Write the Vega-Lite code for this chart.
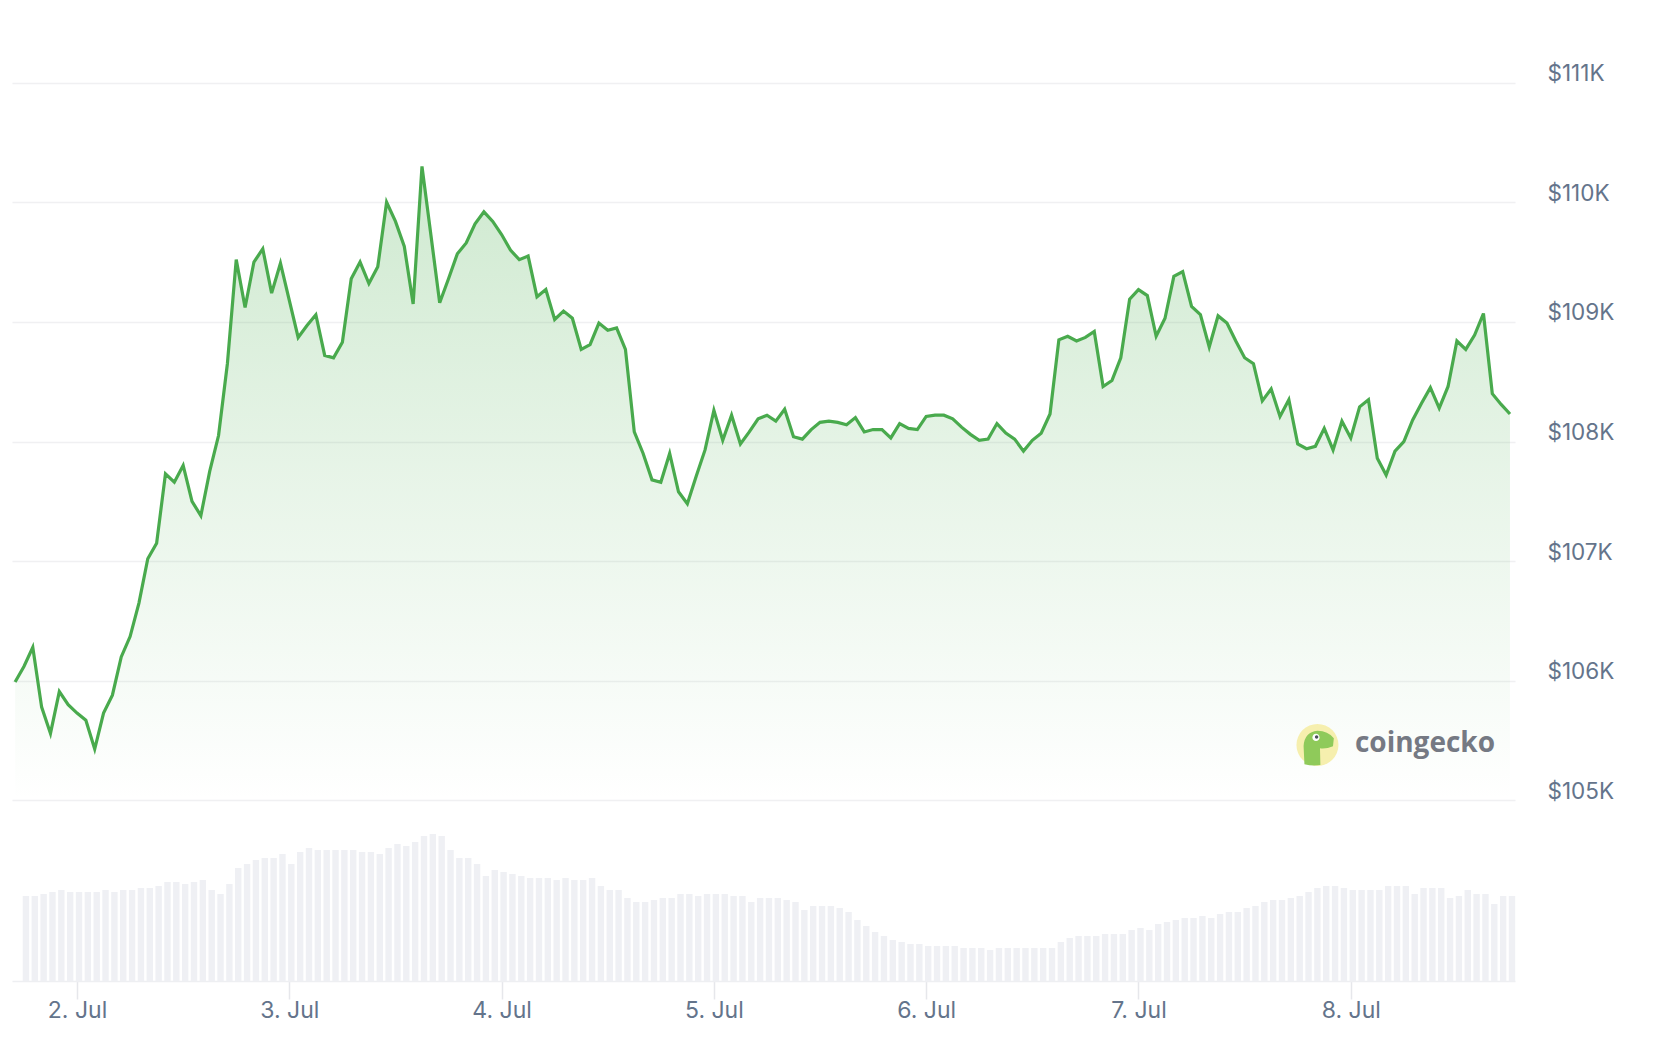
{
  "$schema": "https://vega.github.io/schema/vega-lite/v6.json",
  "width": 1503,
  "height": 958,
  "autosize": {"type": "none"},
  "padding": {"left": 12, "top": 23, "right": 165, "bottom": 61},
  "background": "white",
  "datasets": {
    "price": [
      {"t":"2025-07-01T17:00:00Z","p":105990},{"t":"2025-07-01T18:00:00Z","p":106120},{"t":"2025-07-01T19:00:00Z","p":106280},{"t":"2025-07-01T20:00:00Z","p":105780},{"t":"2025-07-01T21:00:00Z","p":105560},{"t":"2025-07-01T22:00:00Z","p":105910},{"t":"2025-07-01T23:00:00Z","p":105800},
      {"t":"2025-07-02T00:00:00Z","p":105730},{"t":"2025-07-02T01:00:00Z","p":105670},{"t":"2025-07-02T02:00:00Z","p":105430},{"t":"2025-07-02T03:00:00Z","p":105730},{"t":"2025-07-02T04:00:00Z","p":105880},{"t":"2025-07-02T05:00:00Z","p":106200},{"t":"2025-07-02T06:00:00Z","p":106370},{"t":"2025-07-02T07:00:00Z","p":106650},{"t":"2025-07-02T08:00:00Z","p":107020},{"t":"2025-07-02T09:00:00Z","p":107150},{"t":"2025-07-02T10:00:00Z","p":107730},{"t":"2025-07-02T11:00:00Z","p":107660},{"t":"2025-07-02T12:00:00Z","p":107800},{"t":"2025-07-02T13:00:00Z","p":107500},{"t":"2025-07-02T14:00:00Z","p":107380},{"t":"2025-07-02T15:00:00Z","p":107750},{"t":"2025-07-02T16:00:00Z","p":108050},{"t":"2025-07-02T17:00:00Z","p":108650},{"t":"2025-07-02T18:00:00Z","p":109520},{"t":"2025-07-02T19:00:00Z","p":109120},{"t":"2025-07-02T20:00:00Z","p":109500},{"t":"2025-07-02T21:00:00Z","p":109610},{"t":"2025-07-02T22:00:00Z","p":109240},{"t":"2025-07-02T23:00:00Z","p":109490},
      {"t":"2025-07-03T00:00:00Z","p":109180},{"t":"2025-07-03T01:00:00Z","p":108870},{"t":"2025-07-03T02:00:00Z","p":108970},{"t":"2025-07-03T03:00:00Z","p":109060},{"t":"2025-07-03T04:00:00Z","p":108720},{"t":"2025-07-03T05:00:00Z","p":108700},{"t":"2025-07-03T06:00:00Z","p":108830},{"t":"2025-07-03T07:00:00Z","p":109360},{"t":"2025-07-03T08:00:00Z","p":109500},{"t":"2025-07-03T09:00:00Z","p":109320},{"t":"2025-07-03T10:00:00Z","p":109460},{"t":"2025-07-03T11:00:00Z","p":110000},{"t":"2025-07-03T12:00:00Z","p":109840},{"t":"2025-07-03T13:00:00Z","p":109630},{"t":"2025-07-03T14:00:00Z","p":109150},{"t":"2025-07-03T15:00:00Z","p":110300},{"t":"2025-07-03T16:00:00Z","p":109730},{"t":"2025-07-03T17:00:00Z","p":109160},{"t":"2025-07-03T18:00:00Z","p":109360},{"t":"2025-07-03T19:00:00Z","p":109570},{"t":"2025-07-03T20:00:00Z","p":109660},{"t":"2025-07-03T21:00:00Z","p":109820},{"t":"2025-07-03T22:00:00Z","p":109920},{"t":"2025-07-03T23:00:00Z","p":109840},
      {"t":"2025-07-04T00:00:00Z","p":109730},{"t":"2025-07-04T01:00:00Z","p":109600},{"t":"2025-07-04T02:00:00Z","p":109520},{"t":"2025-07-04T03:00:00Z","p":109550},{"t":"2025-07-04T04:00:00Z","p":109210},{"t":"2025-07-04T05:00:00Z","p":109270},{"t":"2025-07-04T06:00:00Z","p":109020},{"t":"2025-07-04T07:00:00Z","p":109090},{"t":"2025-07-04T08:00:00Z","p":109030},{"t":"2025-07-04T09:00:00Z","p":108770},{"t":"2025-07-04T10:00:00Z","p":108810},{"t":"2025-07-04T11:00:00Z","p":108990},{"t":"2025-07-04T12:00:00Z","p":108930},{"t":"2025-07-04T13:00:00Z","p":108950},{"t":"2025-07-04T14:00:00Z","p":108770},{"t":"2025-07-04T15:00:00Z","p":108080},{"t":"2025-07-04T16:00:00Z","p":107900},{"t":"2025-07-04T17:00:00Z","p":107680},{"t":"2025-07-04T18:00:00Z","p":107660},{"t":"2025-07-04T19:00:00Z","p":107900},{"t":"2025-07-04T20:00:00Z","p":107580},{"t":"2025-07-04T21:00:00Z","p":107480},{"t":"2025-07-04T22:00:00Z","p":107710},{"t":"2025-07-04T23:00:00Z","p":107930},
      {"t":"2025-07-05T00:00:00Z","p":108260},{"t":"2025-07-05T01:00:00Z","p":108010},{"t":"2025-07-05T02:00:00Z","p":108220},{"t":"2025-07-05T03:00:00Z","p":107980},{"t":"2025-07-05T04:00:00Z","p":108080},{"t":"2025-07-05T05:00:00Z","p":108190},{"t":"2025-07-05T06:00:00Z","p":108220},{"t":"2025-07-05T07:00:00Z","p":108170},{"t":"2025-07-05T08:00:00Z","p":108270},{"t":"2025-07-05T09:00:00Z","p":108040},{"t":"2025-07-05T10:00:00Z","p":108020},{"t":"2025-07-05T11:00:00Z","p":108100},{"t":"2025-07-05T12:00:00Z","p":108160},{"t":"2025-07-05T13:00:00Z","p":108170},{"t":"2025-07-05T14:00:00Z","p":108160},{"t":"2025-07-05T15:00:00Z","p":108140},{"t":"2025-07-05T16:00:00Z","p":108200},{"t":"2025-07-05T17:00:00Z","p":108080},{"t":"2025-07-05T18:00:00Z","p":108100},{"t":"2025-07-05T19:00:00Z","p":108100},{"t":"2025-07-05T20:00:00Z","p":108030},{"t":"2025-07-05T21:00:00Z","p":108150},{"t":"2025-07-05T22:00:00Z","p":108110},{"t":"2025-07-05T23:00:00Z","p":108100},
      {"t":"2025-07-06T00:00:00Z","p":108210},{"t":"2025-07-06T01:00:00Z","p":108220},{"t":"2025-07-06T02:00:00Z","p":108220},{"t":"2025-07-06T03:00:00Z","p":108190},{"t":"2025-07-06T04:00:00Z","p":108120},{"t":"2025-07-06T05:00:00Z","p":108060},{"t":"2025-07-06T06:00:00Z","p":108010},{"t":"2025-07-06T07:00:00Z","p":108020},{"t":"2025-07-06T08:00:00Z","p":108150},{"t":"2025-07-06T09:00:00Z","p":108070},{"t":"2025-07-06T10:00:00Z","p":108020},{"t":"2025-07-06T11:00:00Z","p":107920},{"t":"2025-07-06T12:00:00Z","p":108010},{"t":"2025-07-06T13:00:00Z","p":108070},{"t":"2025-07-06T14:00:00Z","p":108230},{"t":"2025-07-06T15:00:00Z","p":108850},{"t":"2025-07-06T16:00:00Z","p":108880},{"t":"2025-07-06T17:00:00Z","p":108840},{"t":"2025-07-06T18:00:00Z","p":108870},{"t":"2025-07-06T19:00:00Z","p":108920},{"t":"2025-07-06T20:00:00Z","p":108460},{"t":"2025-07-06T21:00:00Z","p":108510},{"t":"2025-07-06T22:00:00Z","p":108700},{"t":"2025-07-06T23:00:00Z","p":109190},
      {"t":"2025-07-07T00:00:00Z","p":109270},{"t":"2025-07-07T01:00:00Z","p":109220},{"t":"2025-07-07T02:00:00Z","p":108880},{"t":"2025-07-07T03:00:00Z","p":109030},{"t":"2025-07-07T04:00:00Z","p":109380},{"t":"2025-07-07T05:00:00Z","p":109420},{"t":"2025-07-07T06:00:00Z","p":109130},{"t":"2025-07-07T07:00:00Z","p":109060},{"t":"2025-07-07T08:00:00Z","p":108790},{"t":"2025-07-07T09:00:00Z","p":109050},{"t":"2025-07-07T10:00:00Z","p":108990},{"t":"2025-07-07T11:00:00Z","p":108840},{"t":"2025-07-07T12:00:00Z","p":108700},{"t":"2025-07-07T13:00:00Z","p":108650},{"t":"2025-07-07T14:00:00Z","p":108340},{"t":"2025-07-07T15:00:00Z","p":108440},{"t":"2025-07-07T16:00:00Z","p":108210},{"t":"2025-07-07T17:00:00Z","p":108350},{"t":"2025-07-07T18:00:00Z","p":107980},{"t":"2025-07-07T19:00:00Z","p":107940},{"t":"2025-07-07T20:00:00Z","p":107960},{"t":"2025-07-07T21:00:00Z","p":108110},{"t":"2025-07-07T22:00:00Z","p":107930},{"t":"2025-07-07T23:00:00Z","p":108170},
      {"t":"2025-07-08T00:00:00Z","p":108030},{"t":"2025-07-08T01:00:00Z","p":108290},{"t":"2025-07-08T02:00:00Z","p":108350},{"t":"2025-07-08T03:00:00Z","p":107860},{"t":"2025-07-08T04:00:00Z","p":107720},{"t":"2025-07-08T05:00:00Z","p":107920},{"t":"2025-07-08T06:00:00Z","p":108000},{"t":"2025-07-08T07:00:00Z","p":108180},{"t":"2025-07-08T08:00:00Z","p":108320},{"t":"2025-07-08T09:00:00Z","p":108450},{"t":"2025-07-08T10:00:00Z","p":108280},{"t":"2025-07-08T11:00:00Z","p":108460},{"t":"2025-07-08T12:00:00Z","p":108840},{"t":"2025-07-08T13:00:00Z","p":108770},{"t":"2025-07-08T14:00:00Z","p":108890},{"t":"2025-07-08T15:00:00Z","p":109070},{"t":"2025-07-08T16:00:00Z","p":108400},{"t":"2025-07-08T17:00:00Z","p":108310},{"t":"2025-07-08T18:00:00Z","p":108230}
    ],
    "vol": [
      {"t":"2025-07-01T18:00:00Z","v":17},{"t":"2025-07-01T19:00:00Z","v":17},{"t":"2025-07-01T20:00:00Z","v":17.4},{"t":"2025-07-01T21:00:00Z","v":17.8},{"t":"2025-07-01T22:00:00Z","v":18.2},{"t":"2025-07-01T23:00:00Z","v":17.8},
      {"t":"2025-07-02T00:00:00Z","v":17.8},{"t":"2025-07-02T01:00:00Z","v":17.8},{"t":"2025-07-02T02:00:00Z","v":17.8},{"t":"2025-07-02T03:00:00Z","v":18.2},{"t":"2025-07-02T04:00:00Z","v":17.8},{"t":"2025-07-02T05:00:00Z","v":18.2},{"t":"2025-07-02T06:00:00Z","v":18.2},{"t":"2025-07-02T07:00:00Z","v":18.6},{"t":"2025-07-02T08:00:00Z","v":18.6},{"t":"2025-07-02T09:00:00Z","v":19},{"t":"2025-07-02T10:00:00Z","v":19.8},{"t":"2025-07-02T11:00:00Z","v":19.8},{"t":"2025-07-02T12:00:00Z","v":19.4},{"t":"2025-07-02T13:00:00Z","v":19.8},{"t":"2025-07-02T14:00:00Z","v":20.2},{"t":"2025-07-02T15:00:00Z","v":18.2},{"t":"2025-07-02T16:00:00Z","v":17.4},{"t":"2025-07-02T17:00:00Z","v":19.4},{"t":"2025-07-02T18:00:00Z","v":22.6},{"t":"2025-07-02T19:00:00Z","v":23.4},{"t":"2025-07-02T20:00:00Z","v":24.2},{"t":"2025-07-02T21:00:00Z","v":24.6},{"t":"2025-07-02T22:00:00Z","v":24.6},{"t":"2025-07-02T23:00:00Z","v":25.4},
      {"t":"2025-07-03T00:00:00Z","v":23.4},{"t":"2025-07-03T01:00:00Z","v":25.8},{"t":"2025-07-03T02:00:00Z","v":26.6},{"t":"2025-07-03T03:00:00Z","v":26.2},{"t":"2025-07-03T04:00:00Z","v":26.2},{"t":"2025-07-03T05:00:00Z","v":26.2},{"t":"2025-07-03T06:00:00Z","v":26.2},{"t":"2025-07-03T07:00:00Z","v":26.2},{"t":"2025-07-03T08:00:00Z","v":25.8},{"t":"2025-07-03T09:00:00Z","v":25.8},{"t":"2025-07-03T10:00:00Z","v":25.4},{"t":"2025-07-03T11:00:00Z","v":26.6},{"t":"2025-07-03T12:00:00Z","v":27.4},{"t":"2025-07-03T13:00:00Z","v":27},{"t":"2025-07-03T14:00:00Z","v":27.8},{"t":"2025-07-03T15:00:00Z","v":29},{"t":"2025-07-03T16:00:00Z","v":29.4},{"t":"2025-07-03T17:00:00Z","v":29},{"t":"2025-07-03T18:00:00Z","v":26.2},{"t":"2025-07-03T19:00:00Z","v":24.6},{"t":"2025-07-03T20:00:00Z","v":24.6},{"t":"2025-07-03T21:00:00Z","v":23.4},{"t":"2025-07-03T22:00:00Z","v":21},{"t":"2025-07-03T23:00:00Z","v":22.2},
      {"t":"2025-07-04T00:00:00Z","v":21.8},{"t":"2025-07-04T01:00:00Z","v":21.4},{"t":"2025-07-04T02:00:00Z","v":21},{"t":"2025-07-04T03:00:00Z","v":20.6},{"t":"2025-07-04T04:00:00Z","v":20.6},{"t":"2025-07-04T05:00:00Z","v":20.6},{"t":"2025-07-04T06:00:00Z","v":20.2},{"t":"2025-07-04T07:00:00Z","v":20.6},{"t":"2025-07-04T08:00:00Z","v":20.2},{"t":"2025-07-04T09:00:00Z","v":20.2},{"t":"2025-07-04T10:00:00Z","v":20.6},{"t":"2025-07-04T11:00:00Z","v":19},{"t":"2025-07-04T12:00:00Z","v":18.2},{"t":"2025-07-04T13:00:00Z","v":18.2},{"t":"2025-07-04T14:00:00Z","v":16.6},{"t":"2025-07-04T15:00:00Z","v":15.8},{"t":"2025-07-04T16:00:00Z","v":15.8},{"t":"2025-07-04T17:00:00Z","v":16.2},{"t":"2025-07-04T18:00:00Z","v":16.6},{"t":"2025-07-04T19:00:00Z","v":16.6},{"t":"2025-07-04T20:00:00Z","v":17.4},{"t":"2025-07-04T21:00:00Z","v":17.4},{"t":"2025-07-04T22:00:00Z","v":17},{"t":"2025-07-04T23:00:00Z","v":17.4},
      {"t":"2025-07-05T00:00:00Z","v":17.4},{"t":"2025-07-05T01:00:00Z","v":17.4},{"t":"2025-07-05T02:00:00Z","v":17},{"t":"2025-07-05T03:00:00Z","v":17},{"t":"2025-07-05T04:00:00Z","v":15.8},{"t":"2025-07-05T05:00:00Z","v":16.6},{"t":"2025-07-05T06:00:00Z","v":16.6},{"t":"2025-07-05T07:00:00Z","v":16.6},{"t":"2025-07-05T08:00:00Z","v":16.2},{"t":"2025-07-05T09:00:00Z","v":15.8},{"t":"2025-07-05T10:00:00Z","v":14.2},{"t":"2025-07-05T11:00:00Z","v":15},{"t":"2025-07-05T12:00:00Z","v":15},{"t":"2025-07-05T13:00:00Z","v":15},{"t":"2025-07-05T14:00:00Z","v":14.6},{"t":"2025-07-05T15:00:00Z","v":13.8},{"t":"2025-07-05T16:00:00Z","v":12.2},{"t":"2025-07-05T17:00:00Z","v":11},{"t":"2025-07-05T18:00:00Z","v":9.8},{"t":"2025-07-05T19:00:00Z","v":9},{"t":"2025-07-05T20:00:00Z","v":8.2},{"t":"2025-07-05T21:00:00Z","v":7.8},{"t":"2025-07-05T22:00:00Z","v":7.4},{"t":"2025-07-05T23:00:00Z","v":7.4},
      {"t":"2025-07-06T00:00:00Z","v":7},{"t":"2025-07-06T01:00:00Z","v":7},{"t":"2025-07-06T02:00:00Z","v":7},{"t":"2025-07-06T03:00:00Z","v":7},{"t":"2025-07-06T04:00:00Z","v":6.6},{"t":"2025-07-06T05:00:00Z","v":6.6},{"t":"2025-07-06T06:00:00Z","v":6.6},{"t":"2025-07-06T07:00:00Z","v":6.2},{"t":"2025-07-06T08:00:00Z","v":6.6},{"t":"2025-07-06T09:00:00Z","v":6.6},{"t":"2025-07-06T10:00:00Z","v":6.6},{"t":"2025-07-06T11:00:00Z","v":6.6},{"t":"2025-07-06T12:00:00Z","v":6.6},{"t":"2025-07-06T13:00:00Z","v":6.6},{"t":"2025-07-06T14:00:00Z","v":6.6},{"t":"2025-07-06T15:00:00Z","v":7.8},{"t":"2025-07-06T16:00:00Z","v":8.6},{"t":"2025-07-06T17:00:00Z","v":9},{"t":"2025-07-06T18:00:00Z","v":9},{"t":"2025-07-06T19:00:00Z","v":9},{"t":"2025-07-06T20:00:00Z","v":9.4},{"t":"2025-07-06T21:00:00Z","v":9.4},{"t":"2025-07-06T22:00:00Z","v":9.4},{"t":"2025-07-06T23:00:00Z","v":10.2},
      {"t":"2025-07-07T00:00:00Z","v":10.6},{"t":"2025-07-07T01:00:00Z","v":10.2},{"t":"2025-07-07T02:00:00Z","v":11.4},{"t":"2025-07-07T03:00:00Z","v":11.8},{"t":"2025-07-07T04:00:00Z","v":12.2},{"t":"2025-07-07T05:00:00Z","v":12.6},{"t":"2025-07-07T06:00:00Z","v":12.6},{"t":"2025-07-07T07:00:00Z","v":13},{"t":"2025-07-07T08:00:00Z","v":12.6},{"t":"2025-07-07T09:00:00Z","v":13.4},{"t":"2025-07-07T10:00:00Z","v":13.8},{"t":"2025-07-07T11:00:00Z","v":13.8},{"t":"2025-07-07T12:00:00Z","v":14.6},{"t":"2025-07-07T13:00:00Z","v":15},{"t":"2025-07-07T14:00:00Z","v":15.8},{"t":"2025-07-07T15:00:00Z","v":16.2},{"t":"2025-07-07T16:00:00Z","v":16.2},{"t":"2025-07-07T17:00:00Z","v":16.6},{"t":"2025-07-07T18:00:00Z","v":17},{"t":"2025-07-07T19:00:00Z","v":17.8},{"t":"2025-07-07T20:00:00Z","v":18.6},{"t":"2025-07-07T21:00:00Z","v":19},{"t":"2025-07-07T22:00:00Z","v":19},{"t":"2025-07-07T23:00:00Z","v":18.6},
      {"t":"2025-07-08T00:00:00Z","v":18.2},{"t":"2025-07-08T01:00:00Z","v":18.2},{"t":"2025-07-08T02:00:00Z","v":18.2},{"t":"2025-07-08T03:00:00Z","v":18.2},{"t":"2025-07-08T04:00:00Z","v":19},{"t":"2025-07-08T05:00:00Z","v":19},{"t":"2025-07-08T06:00:00Z","v":19},{"t":"2025-07-08T07:00:00Z","v":17.4},{"t":"2025-07-08T08:00:00Z","v":18.6},{"t":"2025-07-08T09:00:00Z","v":18.6},{"t":"2025-07-08T10:00:00Z","v":18.6},{"t":"2025-07-08T11:00:00Z","v":16.6},{"t":"2025-07-08T12:00:00Z","v":17},{"t":"2025-07-08T13:00:00Z","v":18.2},{"t":"2025-07-08T14:00:00Z","v":17.4},{"t":"2025-07-08T15:00:00Z","v":17.4},{"t":"2025-07-08T16:00:00Z","v":15.4},{"t":"2025-07-08T17:00:00Z","v":17},{"t":"2025-07-08T18:00:00Z","v":17}
    ],
    "brand": [
      {"t":"2025-07-07T20:14:00Z","p":105464,"tx":"2025-07-08T00:28:00Z","py":105405,"name":"coingecko"}
    ]
  },
  "resolve": {"scale": {"y": "independent"}},
  "layer": [
    {
      "data": {"name": "vol"},
      "mark": {"type": "bar", "width": 6.4, "xOffset": 2, "color": "#eff0f4"},
      "encoding": {
        "x": {"field": "t", "type": "temporal", "title": null,
              "scale": {"type": "utc", "nice": false, "padding": 0, "domain": [{"year":2025,"month":7,"date":1,"hours":16,"minutes":39,"utc":true},{"year":2025,"month":7,"date":8,"hours":18,"minutes":34,"utc":true}]},
              "axis": {"values": [{"year":2025,"month":7,"date":2,"utc":true},{"year":2025,"month":7,"date":3,"utc":true},{"year":2025,"month":7,"date":4,"utc":true},{"year":2025,"month":7,"date":5,"utc":true},{"year":2025,"month":7,"date":6,"utc":true},{"year":2025,"month":7,"date":7,"utc":true},{"year":2025,"month":7,"date":8,"utc":true}],
                       "format": "%-d. %b", "grid": false, "domainColor": "#eeeff2", "domainWidth": 1.5,
                       "tickColor": "#e6e7eb", "tickSize": 18, "tickWidth": 1.5, "labelPadding": 0,
                       "labelFlush": false, "labelOverlap": false, "labelFont": "Inter", "labelFontSize": 23, "labelColor": "#64748b"}},
        "y": {"field": "v", "type": "quantitative", "title": null, "axis": null,
              "scale": {"domain": [0, 191.6], "nice": false, "zero": true}}
      }
    },
    {
      "layer": [
        {
          "data": {"name": "price"},
          "mark": {"type": "area", "fill": {"gradient": "linear", "x1": 0, "y1": 0, "x2": 0, "y2": 1,
                    "stops": [{"offset": 0, "color": "rgba(76,175,80,0.27)"}, {"offset": 0.5, "color": "rgba(76,175,80,0.13)"}, {"offset": 1, "color": "rgba(76,175,80,0)"}]}},
          "encoding": {
            "x": {"field": "t", "type": "temporal", "title": null,
                  "scale": {"type": "utc", "nice": false, "padding": 0, "domain": [{"year":2025,"month":7,"date":1,"hours":16,"minutes":39,"utc":true},{"year":2025,"month":7,"date":8,"hours":18,"minutes":34,"utc":true}]}},
            "y": {"field": "p", "type": "quantitative", "title": null,
                  "scale": {"domain": [103491, 111498], "nice": false, "zero": false},
                  "axis": {"orient": "right", "values": [105000, 106000, 107000, 108000, 109000, 110000, 111000],
                           "labelExpr": "'$' + format(datum.value / 1000, 'd') + 'K'",
                           "grid": true, "gridColor": "#f0f0f2", "gridWidth": 1.5, "ticks": false, "tickSize": 0, "domain": false,
                           "labelAlign": "left", "labelPadding": 32, "labelBaseline": "alphabetic", "labelOffset": -2,
                           "labelFont": "Inter", "labelFontSize": 22.5, "labelColor": "#64748b"}},
            "y2": {"datum": 105000}
          }
        },
        {
          "data": {"name": "price"},
          "mark": {"type": "line", "color": "#49aa4d", "strokeWidth": 3.2},
          "encoding": {
            "x": {"field": "t", "type": "temporal", "title": null,
                  "scale": {"type": "utc", "nice": false, "padding": 0, "domain": [{"year":2025,"month":7,"date":1,"hours":16,"minutes":39,"utc":true},{"year":2025,"month":7,"date":8,"hours":18,"minutes":34,"utc":true}]}},
            "y": {"field": "p", "type": "quantitative", "title": null,
                  "scale": {"domain": [103491, 111498], "nice": false, "zero": false}}
          }
        },
        {
          "data": {"name": "brand"},
          "encoding": {
            "x": {"field": "t", "type": "temporal", "title": null,
                  "scale": {"type": "utc", "nice": false, "padding": 0, "domain": [{"year":2025,"month":7,"date":1,"hours":16,"minutes":39,"utc":true},{"year":2025,"month":7,"date":8,"hours":18,"minutes":34,"utc":true}]}},
            "y": {"field": "p", "type": "quantitative", "title": null,
                  "scale": {"domain": [103491, 111498], "nice": false, "zero": false}}
          },
          "layer": [
            {"mark": {"type": "point", "shape": "circle", "filled": true, "size": 1764, "color": "#f6efae", "opacity": 1}},
            {"mark": {"type": "point", "shape": "M -0.62 0.92 L -0.66 0.05 Q -0.62 -0.62 0.0 -0.68 Q 0.5 -0.68 0.78 -0.32 L 0.74 0.06 Q 0.42 0.2 0.12 0.16 L 0.14 0.96 Q -0.25 1.02 -0.62 0.92 Z", "filled": true, "size": 1764, "color": "#8fca5a", "opacity": 1}},
            {"mark": {"type": "point", "shape": "M -0.24 -0.36 A 0.17 0.17 0 1 0 0.1 -0.36 A 0.17 0.17 0 1 0 -0.24 -0.36 Z", "filled": true, "size": 1764, "color": "#ffffff", "opacity": 1}},
            {"mark": {"type": "point", "shape": "M -0.12 -0.38 A 0.08 0.08 0 1 0 0.04 -0.38 A 0.08 0.08 0 1 0 -0.12 -0.38 Z", "filled": true, "size": 1764, "color": "#4a4f5c", "opacity": 1}}
          ]
        },
        {
          "data": {"name": "brand"},
          "mark": {"type": "text", "font": "Open Sans", "fontWeight": "bold", "fontSize": 28, "color": "#757983", "align": "left", "baseline": "alphabetic"},
          "encoding": {
            "x": {"field": "tx", "type": "temporal", "title": null,
                  "scale": {"type": "utc", "nice": false, "padding": 0, "domain": [{"year":2025,"month":7,"date":1,"hours":16,"minutes":39,"utc":true},{"year":2025,"month":7,"date":8,"hours":18,"minutes":34,"utc":true}]}},
            "y": {"field": "py", "type": "quantitative", "title": null,
                  "scale": {"domain": [103491, 111498], "nice": false, "zero": false}},
            "text": {"field": "name"}
          }
        }
      ]
    }
  ],
  "config": {
    "view": {"stroke": null},
    "axis": {"labelFont": "Inter", "labelColor": "#64748b", "labelFontSize": 22}
  }
}
